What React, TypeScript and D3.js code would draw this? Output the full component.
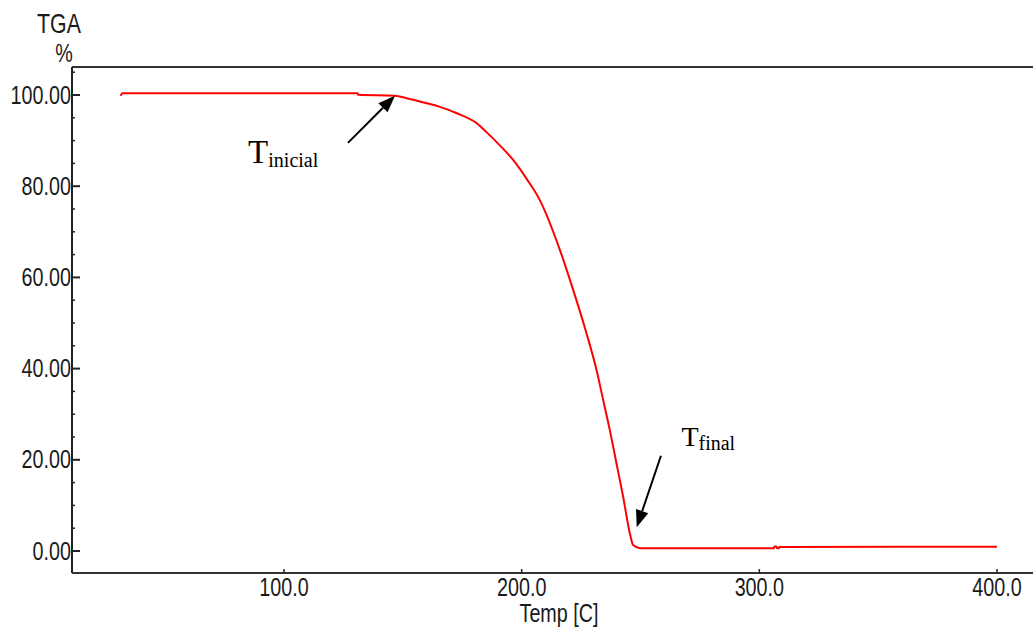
import React from "react";
import * as d3 from "d3";

// Thermogravimetric curve: sample temperature (°C) vs. remaining mass (%)
const temps = [31.2, 32.0, 131.0, 131.2, 146.7, 151.6, 160.0, 165.6, 172.7, 181.1, 185.3, 190.9, 196.5, 202.1, 207.7, 216.1, 221.7, 227.3, 231.5, 234.3, 237.1, 239.9, 242.7, 245.5, 246.9, 249.8, 306.0, 306.4, 307.2, 307.4, 308.2, 308.4, 400.0];
const masses = [99.8, 100.4, 100.4, 100.05, 99.85, 99.3, 98.2, 97.4, 96.0, 93.8, 91.8, 88.9, 85.7, 81.6, 76.9, 66.0, 57.2, 47.7, 39.7, 33.1, 26.5, 19.2, 11.9, 3.9, 1.3, 0.6, 0.6, 1.0, 1.0, 0.6, 0.6, 0.85, 0.95];

const yMajorTicks = [0, 20, 40, 60, 80, 100];
const yMinorTicks = [5, 10, 15, 25, 30, 35, 45, 50, 55, 65, 70, 75, 85, 90, 95, 105];
const xMajorTicks = [100, 200, 300, 400];

// Onset / end annotations: arrow tail, arrow tip and label anchor, in data units
const annoNames = ["inicial", "final"];
const annoTipT = [146.7, 248.4];
const annoTipM = [99.85, 5.2];
const annoTailT = [126.9, 258.6];
const annoTailM = [89.5, 20.9];
const annoTextT = [84.9, 267.2];
const annoTextM = [85.1, 23.0];
const annoSizes = [33, 28];

const W = 1033;
const H = 628;
const frame = { left: 72, right: 1033, top: 67, bottom: 573 };

const x = d3.scaleLinear().domain([100, 400]).range([284, 997]);
const y = d3.scaleLinear().domain([0, 100]).range([551, 95]);

const data = temps.map((t, i) => [t, masses[i]] as [number, number]);
const line = d3
  .line<[number, number]>()
  .x((d) => x(d[0]))
  .y((d) => y(d[1]))
  .curve(d3.curveMonotoneX);

const AXIS_FONT = "'Liberation Sans', Arial, sans-serif";
const SX = 0.79;

function Label({ tx, ty, anchor, size = 25, children }: any) {
  return (
    <g transform={`translate(${tx},${ty}) scale(${SX},1)`}>
      <text
        x={0}
        y={0}
        textAnchor={anchor}
        fontFamily={AXIS_FONT}
        fontSize={size}
        fill="#1a1a1a"
      >
        {children}
      </text>
    </g>
  );
}

function Arrow({ i }: { i: number }) {
  const x1 = x(annoTailT[i]);
  const y1 = y(annoTailM[i]);
  const x2 = x(annoTipT[i]);
  const y2 = y(annoTipM[i]);
  const ang = Math.atan2(y2 - y1, x2 - x1);
  const len = 17;
  const half = 6.5;
  const bx = x2 - len * Math.cos(ang);
  const by = y2 - len * Math.sin(ang);
  const px = -Math.sin(ang) * half;
  const py = Math.cos(ang) * half;
  return (
    <g>
      <line x1={x1} y1={y1} x2={bx} y2={by} stroke="#000" strokeWidth={2} />
      <polygon
        points={`${x2},${y2} ${bx + px},${by + py} ${bx - px},${by - py}`}
        fill="#000"
      />
    </g>
  );
}

export default function App() {
  const fmtY = d3.format(".2f");
  const fmtX = d3.format(".1f");
  return (
    <svg
      width={W}
      height={H}
      style={{ position: "absolute", left: 0, top: 0, background: "#fff" }}
    >
      <rect x={0} y={0} width={W} height={H} fill="#fff" />

      {/* frame */}
      <line x1={frame.left} y1={frame.top} x2={frame.right} y2={frame.top} stroke="#333" strokeWidth={2} />
      <line x1={frame.left} y1={frame.top} x2={frame.left} y2={frame.bottom} stroke="#222" strokeWidth={2} />
      <line x1={frame.left} y1={frame.bottom} x2={frame.right} y2={frame.bottom} stroke="#333" strokeWidth={2} />

      {/* y ticks */}
      {yMinorTicks.map((v) => (
        <line key={"ym" + v} x1={frame.left} x2={frame.left + 3} y1={y(v)} y2={y(v)} stroke="#222" strokeWidth={1.5} />
      ))}
      {yMajorTicks.map((v) => (
        <g key={"y" + v}>
          <line x1={frame.left} x2={frame.left + 8} y1={y(v)} y2={y(v)} stroke="#222" strokeWidth={2} />
          <Label tx={frame.left - 1} ty={y(v) + 8.5} anchor="end">
            {fmtY(v)}
          </Label>
        </g>
      ))}

      {/* x ticks */}
      {xMajorTicks.map((v) => (
        <g key={"x" + v}>
          <line x1={x(v)} x2={x(v)} y1={frame.bottom} y2={frame.bottom - 4} stroke="#222" strokeWidth={1.5} />
          <Label tx={x(v)} ty={596} anchor="middle">
            {fmtX(v)}
          </Label>
        </g>
      ))}

      <Label tx={559} ty={622} anchor="middle">Temp  [C]</Label>
      <Label tx={59} ty={33} anchor="middle" size={27}>TGA</Label>
      <Label tx={64} ty={62} anchor="middle">%</Label>

      {/* mass-loss curve */}
      <path d={line(data) || ""} fill="none" stroke="#ff0000" strokeWidth={2} strokeLinejoin="round" />

      {/* annotations */}
      {annoNames.map((name, i) => (
        <g key={name}>
          <Arrow i={i} />
          <text
            x={x(annoTextT[i])}
            y={y(annoTextM[i])}
            fontFamily="'Liberation Serif', 'Times New Roman', serif"
            fontSize={annoSizes[i]}
            fill="#000"
          >
            T
            <tspan fontSize={20} dy={4}>
              {name}
            </tspan>
          </text>
        </g>
      ))}
    </svg>
  );
}
